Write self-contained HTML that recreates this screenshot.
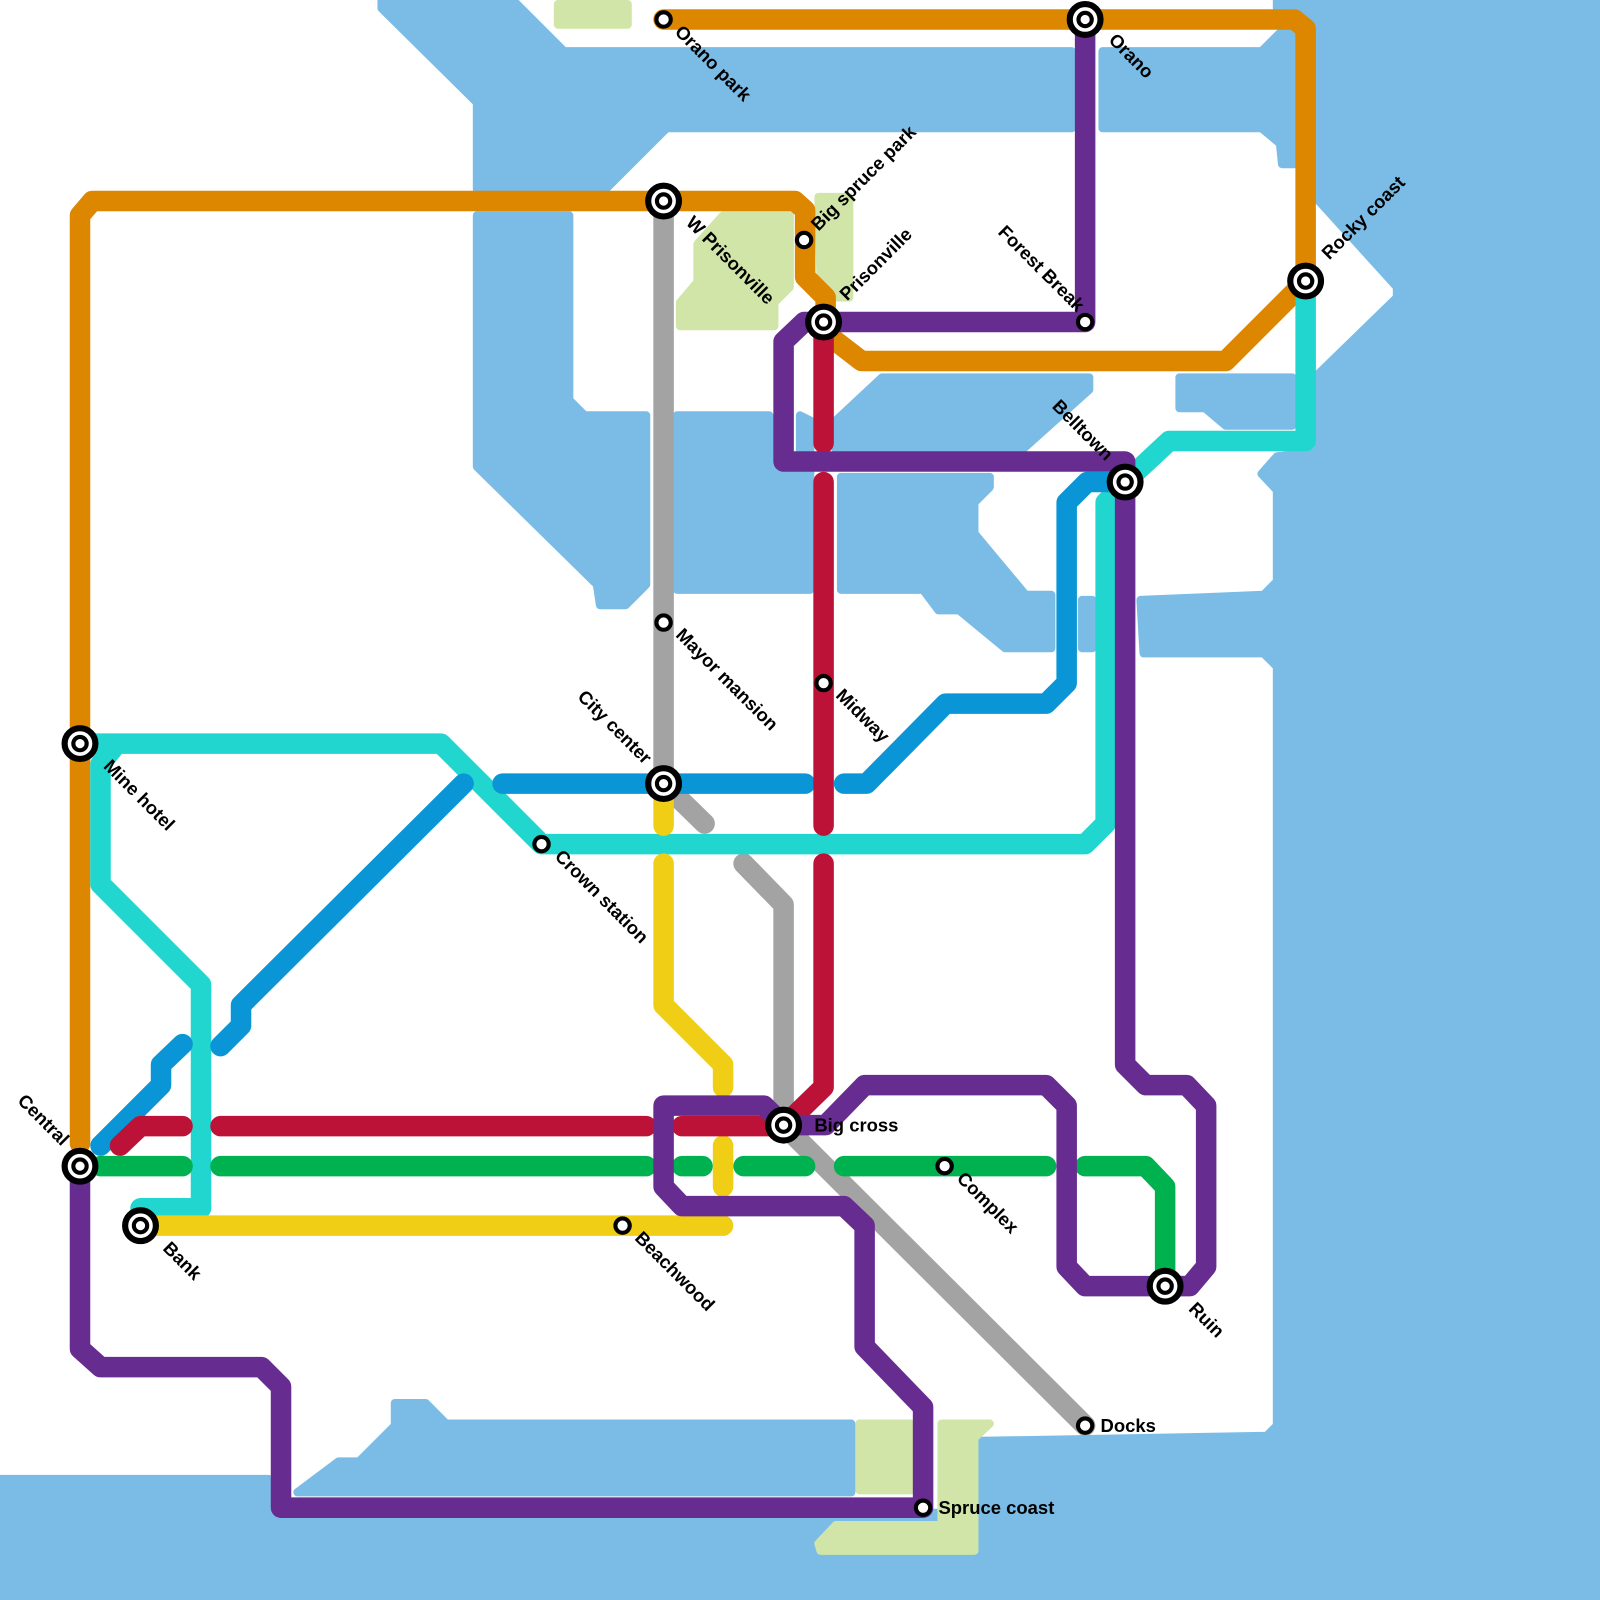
<!DOCTYPE html>
<html><head><meta charset="utf-8"><style>html,body{margin:0;padding:0;background:#fff}svg{display:block}</style></head>
<body>
<svg width="1600" height="1600" viewBox="0 0 1560 1560" xmlns="http://www.w3.org/2000/svg">
<g fill="#7bbce7" stroke="#7bbce7" stroke-width="8" stroke-linejoin="round">
<polygon points="1245,0 1560,0 1560,1560 950,1560 950,1405 1235,1400 1245,1390 1245,650 1232,637 1115,637 1112,585 1232,580 1245,567 1245,478 1230,462 1245,445 1285,440 1285,365 1362,290 1362,280 1285,195 1285,30 1245,8"/>
<polygon points="1075,50 1230,50 1250,30 1262,30 1262,160 1250,160 1248,140 1230,125 1075,125"/>
<polygon points="372,0 500,0 550,50 1045,50 1045,125 650,125 590,185 465,185 465,100 372,8"/>
<polygon points="465,210 555,210 555,390 570,405 630,405 630,570 610,590 585,590 582,570 465,455"/>
<polygon points="660,405 750,405 755,412 755,440 780,460 780,405 790,410 790,575 660,575"/>
<polygon points="815,410 860,368 1062,368 1062,380 995,440 815,440"/>
<polygon points="820,465 965,465 965,475 950,490 950,520 1000,580 1025,580 1025,632 980,632 935,595 915,595 900,575 820,575"/>
<polygon points="1055,585 1065,585 1065,632 1055,632"/>
<polygon points="1150,368 1260,368 1260,415 1195,415 1175,398 1150,398"/>
<polygon points="385,1368 415,1368 435,1388 830,1388 830,1455 290,1455 330,1425 350,1425 385,1390"/>
<polygon points="0,1442 262,1442 262,1560 0,1560"/>
<polygon points="0,1475 950,1475 950,1560 0,1560"/>
</g>
<g fill="#d0e5a7" stroke="#d0e5a7" stroke-width="8" stroke-linejoin="round">
<rect x="544" y="4" width="68" height="20"/>
<polygon points="705,210 770,210 770,280 755,295 755,318 663,318 663,295 680,275 680,238"/>
<polygon points="798,192 828,192 828,290 815,290 800,270"/>
<rect x="838" y="1388" width="50" height="65"/>
<polygon points="918,1388 965,1388 950,1402 950,1512 800,1512 798,1505 815,1487 918,1487"/>
</g>
<g fill="none" stroke-width="20" stroke-linecap="round" stroke-linejoin="round">
<path stroke="#dd8600" d="M78,1115 L78,210 L90,196 L775,196 L785,205 L785,270 L805,290 L805,325 L840,352 L1195,352 L1273,274 L1273,28 L1262,19 L647,19"/>
<path stroke="#a3a3a3" d="M647,196 L647,764 L687,803 M725,842 L764,882 L764,1097 L1058,1390"/>
<path stroke="#21d6cf" d="M78,725 L430,725 L528,823 L1058,823 L1078,803 L1078,490 L1097,470 L1140,430 L1273,430 L1273,274 M110,730 L98,745 L98,862 L196,960 L196,1178 L137,1178"/>
<path stroke="#0a96d6" d="M98,1117 L157,1058 L157,1038 L178,1018 M215,1020 L235,1000 L235,980 L452,764 M490,764 L785,764 M823,764 L845,764 L922,686 L1020,686 L1040,666 L1040,490 L1060,470 L1097,470"/>
<path stroke="#f0ce15" d="M647,764 L647,805 M647,842 L647,980 L705,1038 L705,1060 M705,1117 L705,1157 M137,1195 L705,1195"/>
<path stroke="#00b150" d="M98,1137 L178,1137 M215,1137 L630,1137 M665,1137 L685,1137 M725,1137 L785,1137 M823,1137 L1020,1137 M1058,1137 L1117,1137 L1136,1157 L1136,1254"/>
<path stroke="#bc1238" d="M117,1117 L137,1098 L178,1098 M215,1098 L630,1098 M665,1098 L764,1098 L803,1060 L803,842 M803,805 L803,470 M803,432 L803,314"/>
<path stroke="#662c90" d="M78,1137 L78,1315 L98,1333 L255,1333 L274,1352 L274,1470 L900,1470 L900,1372 L843,1313 L843,1195 L823,1176 L665,1176 L647,1157 L647,1078 L745,1078 L764,1097 L805,1097 L843,1058 L1020,1058 L1040,1078 L1040,1235 L1058,1254 L1160,1254 L1176,1235 L1176,1078 L1157,1058 L1117,1058 L1097,1038 L1097,450 L764,450 L764,333 L784,314 L1058,314 L1058,19"/>
</g>
<g fill="#fff" stroke="#000">
<g stroke-width="6">
<circle cx="1058" cy="19" r="15"/><circle cx="647" cy="196" r="15"/><circle cx="803" cy="314" r="15"/><circle cx="1273" cy="274" r="15"/><circle cx="1097" cy="470" r="15"/><circle cx="78" cy="725" r="15"/><circle cx="647" cy="764" r="15"/><circle cx="78" cy="1137" r="15"/><circle cx="764" cy="1097" r="15"/><circle cx="137" cy="1195" r="15"/><circle cx="1136" cy="1254" r="15"/>
</g>
<g stroke-width="4">
<circle cx="1058" cy="19" r="6.5"/><circle cx="647" cy="196" r="6.5"/><circle cx="803" cy="314" r="6.5"/><circle cx="1273" cy="274" r="6.5"/><circle cx="1097" cy="470" r="6.5"/><circle cx="78" cy="725" r="6.5"/><circle cx="647" cy="764" r="6.5"/><circle cx="78" cy="1137" r="6.5"/><circle cx="764" cy="1097" r="6.5"/><circle cx="137" cy="1195" r="6.5"/><circle cx="1136" cy="1254" r="6.5"/>
</g>
<g stroke-width="4">
<circle cx="647" cy="19" r="7"/><circle cx="784" cy="234" r="7"/><circle cx="1058" cy="314" r="7"/><circle cx="647" cy="607" r="7"/><circle cx="803" cy="666" r="7"/><circle cx="528" cy="823" r="7"/><circle cx="921" cy="1137" r="7"/><circle cx="607" cy="1195" r="7"/><circle cx="1058" cy="1390" r="7"/><circle cx="900" cy="1470" r="7"/>
</g>
</g>
<g font-family="Liberation Sans, sans-serif" font-weight="bold" font-size="18" fill="#000">
<text transform="translate(657,32) rotate(45)">Orano park</text>
<text transform="translate(1080,40) rotate(45)">Orano</text>
<text transform="translate(668,218) rotate(45)">W Prisonville</text>
<text transform="translate(100,748) rotate(45)">Mine hotel</text>
<text transform="translate(658,620) rotate(45)">Mayor mansion</text>
<text transform="translate(814,679) rotate(45)">Midway</text>
<text transform="translate(540,836) rotate(45)">Crown station</text>
<text transform="translate(932,1150) rotate(45)">Complex</text>
<text transform="translate(618,1208) rotate(45)">Beachwood</text>
<text transform="translate(158,1218) rotate(45)">Bank</text>
<text transform="translate(1158,1277) rotate(45)">Ruin</text>
<text transform="translate(798,226) rotate(-45)">Big spruce park</text>
<text transform="translate(826,294) rotate(-45)">Prisonville</text>
<text transform="translate(1296,254) rotate(-45)">Rocky coast</text>
<text text-anchor="end" transform="translate(1050,305) rotate(45)">Forest Break</text>
<text text-anchor="end" transform="translate(1078,450) rotate(45)">Belltown</text>
<text text-anchor="end" transform="translate(628,746) rotate(45)">City center</text>
<text text-anchor="end" transform="translate(60,1118) rotate(45)">Central</text>
<text x="794" y="1103">Big cross</text>
<text x="1073" y="1396">Docks</text>
<text x="915" y="1476">Spruce coast</text>
</g>
</svg>
</body></html>
